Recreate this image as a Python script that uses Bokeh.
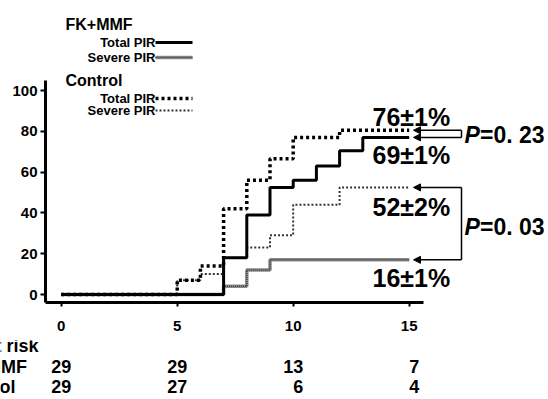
from bokeh.plotting import figure
from bokeh.models import Range1d, Label, LabelSet, ColumnDataSource, Arrow, NormalHead
from bokeh.core.properties import value
from bokeh.embed import file_html
from bokeh.resources import INLINE

# ---------------- data ----------------
fk_total_t = [0, 7, 8, 9, 10, 11, 12, 13, 15]
fk_total_v = [0, 18, 39, 52.5, 56, 63, 70.5, 77, 77]
fk_severe_t = [0, 7, 8, 9, 15]
fk_severe_v = [0, 4, 12, 17, 17]
ctl_total_t = [0, 5, 6, 7, 8, 9, 10, 12, 15]
ctl_total_v = [0, 7, 14, 42, 56, 66.5, 77, 80.5, 80.5]
ctl_severe_t = [0, 5, 6, 7, 8, 9, 10, 12, 15]
ctl_severe_v = [0, 7, 10, 18, 23, 29, 44, 52.5, 52.5]

x_ticks = [0, 5, 10, 15]
y_ticks = [0, 20, 40, 60, 80, 100]
risk_times = [0, 5, 10, 15]
risk_fk = [29, 29, 13, 7]
risk_ctl = [29, 27, 6, 4]
risk_rows = ["No. at risk", "FK+MMF", "Control"]
end_labels = ["76\u00b11%", "69\u00b11%", "52\u00b12%", "16\u00b11%"]
p_values = ["=0. 23", "=0. 03"]
legend_groups = ["FK+MMF", "Control"]
legend_items = ["Total PIR", "Severe PIR"]

# ---------------- layout helpers (pixel -> data) ----------------
X0, XS = 60.7, 23.2
Y0, YS = 294.0, 2.04
def dx(px):
    return (px - X0) / XS
def dy(py):
    return (Y0 - py) / YS

FONT = "Liberation Sans"
W = 548
H1, H2 = 340, 59
left_px, bottom_px = 45, 302

p = figure(width=W, height=H1, output_backend="svg", toolbar_location=None,
           x_range=Range1d(dx(left_px), dx(W)),
           y_range=Range1d(dy(bottom_px), dy(0)),
           min_border_left=left_px, min_border_right=0,
           min_border_top=0, min_border_bottom=H1 - bottom_px)
p.outline_line_color = None
p.grid.visible = False
p.background_fill_color = "white"
p.border_fill_color = "white"

for ax in (p.xaxis, p.yaxis):
    ax.axis_line_width = 3
    ax.major_tick_line_width = 2
    ax.minor_tick_line_color = None
    ax.major_tick_in = 0
    ax.major_label_text_font = FONT
    ax.major_label_text_font_style = "bold"
    ax.major_label_text_font_size = "15px"
    ax.major_label_text_color = "black"
p.xaxis.ticker = x_ticks
p.yaxis.ticker = y_ticks
p.xaxis.major_tick_out = 4
p.yaxis.major_tick_out = 5
p.xaxis.major_label_standoff = 14
p.yaxis.major_label_standoff = 3
p.xaxis.bounds = (dx(left_px), 15.6)
p.yaxis.bounds = (dy(bottom_px), 105)

# ---------------- styles ----------------
def fk_total(xs, ys):
    p.step(xs, ys, mode="after", line_color="black", line_width=3)
def fk_severe(xs, ys):
    p.step(xs, ys, mode="after", line_color="#8c8c8c", line_width=3.5)
    p.step(xs, ys, mode="after", line_color="#3c3c3c", line_width=1.5, line_dash="1 1")
def ctl_total(xs, ys):
    p.step(xs, ys, mode="after", line_color="black", line_width=3.5, line_dash="3 3")
def ctl_severe(xs, ys):
    p.step(xs, ys, mode="after", line_color="#333333", line_width=2, line_dash="2 2")

ctl_severe(ctl_severe_t, ctl_severe_v)
fk_severe(fk_severe_t, fk_severe_v)
ctl_total(ctl_total_t, ctl_total_v)
fk_total(fk_total_t, fk_total_v)

# ---------------- legend ----------------
def lab(fig, x, y, text, size, align="left", style="bold"):
    fig.add_layout(Label(x=x, y=y, text=text, text_align=align, text_baseline="middle",
                         text_font=FONT, text_font_style=style, text_font_size=size,
                         text_color="black"))

lab(p, dx(65), dy(24), legend_groups[0], "16px")
lab(p, dx(65), dy(80), legend_groups[1], "16px")
leg_y = [42, 57, 98, 110]
leg_texts = [legend_items[0], legend_items[1], legend_items[0], legend_items[1]]
for yy, t in zip(leg_y, leg_texts):
    lab(p, dx(155), dy(yy), t, "13px", align="right")
fk_total([dx(155), dx(192)], [dy(42), dy(42)])
fk_severe([dx(155), dx(192)], [dy(57), dy(57)])
ctl_total([dx(155), dx(192)], [dy(98), dy(98)])
ctl_severe([dx(155), dx(192)], [dy(110), dy(110)])

# ---------------- end labels ----------------
for t, yy in zip(end_labels, [116, 154, 206, 277]):
    lab(p, dx(372), dy(yy), t, "25px")

# brackets / arrows
tip_x, right_x = dx(413), dx(461)
pairs = [(ctl_total_v[-1], fk_total_v[-1]), (ctl_severe_v[-1], fk_severe_v[-1])]
for a, b in pairs:
    for yv in (a, b):
        p.add_layout(Arrow(end=NormalHead(size=7, fill_color="black", line_color="black", line_width=1),
                           x_start=right_x, y_start=yv, x_end=tip_x, y_end=yv,
                           line_width=1.5, line_color="black"))
    p.segment(x0=[right_x], y0=[a], x1=[right_x], y1=[b], line_color="black", line_width=1.5)

for pv, yy in zip(p_values, [134.5, 226]):
    lab(p, dx(464), dy(yy), "P", "23px", style="bold italic")
    lab(p, dx(479.5), dy(yy), pv, "23px")

# ---------------- numbers at risk (second root, same x scale) ----------------
q = figure(width=W, height=H2, output_backend="svg", toolbar_location=None,
           x_range=Range1d(dx(0), dx(W)), y_range=Range1d(H1 + H2, H1),
           x_axis_type=None, y_axis_type=None,
           min_border_left=0, min_border_right=0, min_border_top=0, min_border_bottom=0)
q.outline_line_color = None
q.grid.visible = False
q.background_fill_color = "white"
q.border_fill_color = "white"

row_y = [345, 366, 386]
for name, yy in zip(risk_rows, row_y):
    lab(q, dx(-49), yy, name, "18px")
src = ColumnDataSource(dict(x=risk_times + risk_times,
                            y=[row_y[1]] * len(risk_times) + [row_y[2]] * len(risk_times),
                            t=[str(v) for v in risk_fk + risk_ctl]))
q.add_layout(LabelSet(x="x", y="y", text="t", source=src, x_offset=10,
                      text_align="right", text_baseline="middle",
                      text_font=value(FONT), text_font_style="bold",
                      text_font_size="18px", text_color="black"))

open("out.html", "w").write(file_html([p, q], INLINE))
